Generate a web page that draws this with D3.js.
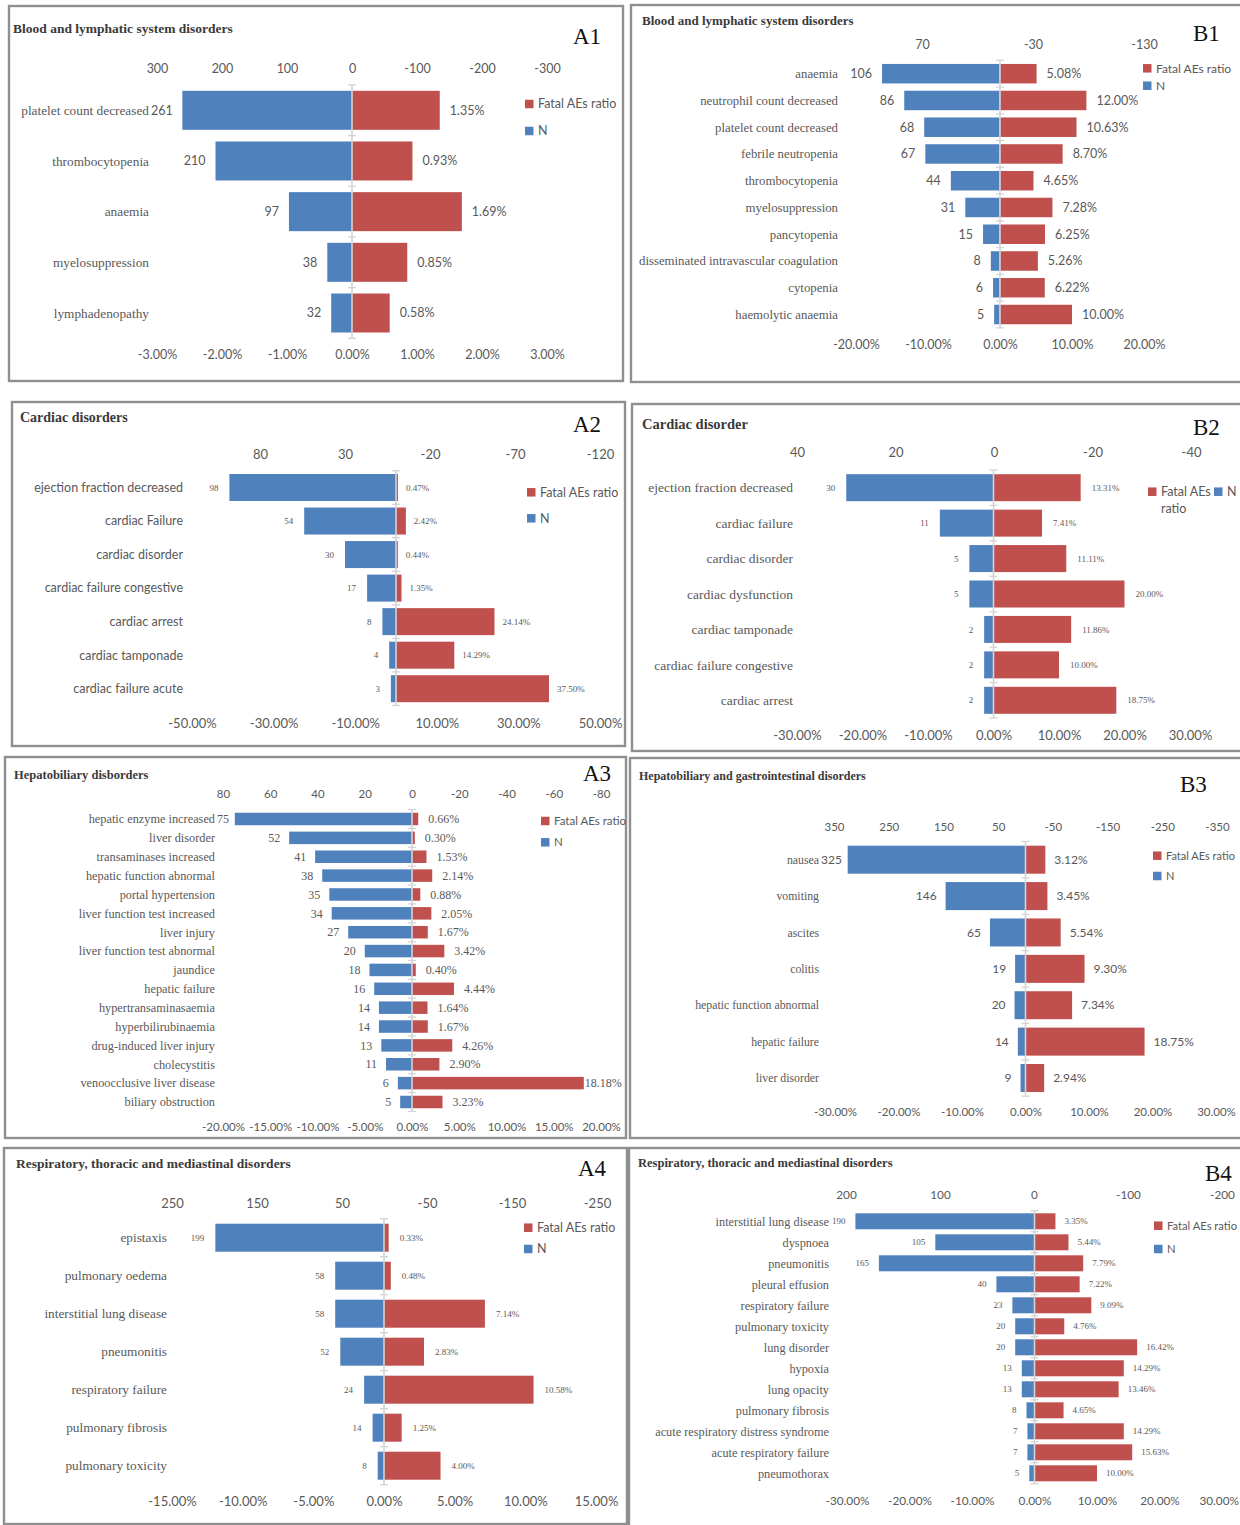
<!DOCTYPE html>
<html>
<head>
<meta charset="utf-8">
<script src="https://cdn.jsdelivr.net/npm/d3@7"></script>
<style>
  body { margin: 0; background: #fff; }
  svg { display: block; }
</style>
</head>
<body>
<svg id="fig" width="1240" height="1525"></svg>
<script>
// ---------- A1: blood and lymphatic system disorders ----------
const a1Terms = ["platelet count decreased", "thrombocytopenia", "anaemia", "myelosuppression", "lymphadenopathy"];
const a1N = [261, 210, 97, 38, 32];
const a1Ratio = [1.35, 0.93, 1.69, 0.85, 0.58];
const a1NTicks = [300, 200, 100, 0, -100, -200, -300];
const a1PctTicks = [-3, -2, -1, 0, 1, 2, 3];

// ---------- B1: blood and lymphatic system disorders ----------
const b1Terms = ["anaemia", "neutrophil count decreased", "platelet count decreased", "febrile neutropenia",
  "thrombocytopenia", "myelosuppression", "pancytopenia", "disseminated intravascular coagulation",
  "cytopenia", "haemolytic anaemia"];
const b1N = [106, 86, 68, 67, 44, 31, 15, 8, 6, 5];
const b1Ratio = [5.08, 12.00, 10.63, 8.70, 4.65, 7.28, 6.25, 5.26, 6.22, 10.00];
const b1NTicks = [70, -30, -130];
const b1PctTicks = [-20, -10, 0, 10, 20];

// ---------- A2: cardiac disorders ----------
const a2Terms = ["ejection fraction decreased", "cardiac Failure", "cardiac disorder", "cardiac failure congestive",
  "cardiac arrest", "cardiac tamponade", "cardiac failure acute"];
const a2N = [98, 54, 30, 17, 8, 4, 3];
const a2Ratio = [0.47, 2.42, 0.44, 1.35, 24.14, 14.29, 37.50];
const a2NTicks = [80, 30, -20, -70, -120];
const a2PctTicks = [-50, -30, -10, 10, 30, 50];

// ---------- B2: cardiac disorder ----------
const b2Terms = ["ejection fraction decreased", "cardiac failure", "cardiac disorder", "cardiac dysfunction",
  "cardiac tamponade", "cardiac failure congestive", "cardiac arrest"];
const b2N = [30, 11, 5, 5, 2, 2, 2];
const b2Ratio = [13.31, 7.41, 11.11, 20.00, 11.86, 10.00, 18.75];
const b2NTicks = [40, 20, 0, -20, -40];
const b2PctTicks = [-30, -20, -10, 0, 10, 20, 30];

// ---------- A3: hepatobiliary disorders ----------
const a3Terms = ["hepatic enzyme increased", "liver disorder", "transaminases increased", "hepatic function abnormal",
  "portal hypertension", "liver function test increased", "liver injury", "liver function test abnormal",
  "jaundice", "hepatic failure", "hypertransaminasaemia", "hyperbilirubinaemia", "drug-induced liver injury",
  "cholecystitis", "venoocclusive liver disease", "biliary obstruction"];
const a3N = [75, 52, 41, 38, 35, 34, 27, 20, 18, 16, 14, 14, 13, 11, 6, 5];
const a3Ratio = [0.66, 0.30, 1.53, 2.14, 0.88, 2.05, 1.67, 3.42, 0.40, 4.44, 1.64, 1.67, 4.26, 2.90, 18.18, 3.23];
const a3NTicks = [80, 60, 40, 20, 0, -20, -40, -60, -80];
const a3PctTicks = [-20, -15, -10, -5, 0, 5, 10, 15, 20];

// ---------- B3: hepatobiliary and gastrointestinal disorders ----------
const b3Terms = ["nausea", "vomiting", "ascites", "colitis", "hepatic function abnormal", "hepatic failure", "liver disorder"];
const b3N = [325, 146, 65, 19, 20, 14, 9];
const b3Ratio = [3.12, 3.45, 5.54, 9.30, 7.34, 18.75, 2.94];
const b3NTicks = [350, 250, 150, 50, -50, -150, -250, -350];
const b3PctTicks = [-30, -20, -10, 0, 10, 20, 30];

// ---------- A4: respiratory, thoracic and mediastinal disorders ----------
const a4Terms = ["epistaxis", "pulmonary oedema", "interstitial lung disease", "pneumonitis",
  "respiratory failure", "pulmonary fibrosis", "pulmonary toxicity"];
const a4N = [199, 58, 58, 52, 24, 14, 8];
const a4Ratio = [0.33, 0.48, 7.14, 2.83, 10.58, 1.25, 4.00];
const a4NTicks = [250, 150, 50, -50, -150, -250];
const a4PctTicks = [-15, -10, -5, 0, 5, 10, 15];

// ---------- B4: respiratory, thoracic and mediastinal disorders ----------
const b4Terms = ["interstitial lung disease", "dyspnoea", "pneumonitis", "pleural effusion", "respiratory failure",
  "pulmonary toxicity", "lung disorder", "hypoxia", "lung opacity", "pulmonary fibrosis",
  "acute respiratory distress syndrome", "acute respiratory failure", "pneumothorax"];
const b4N = [190, 105, 165, 40, 23, 20, 20, 13, 13, 8, 7, 7, 5];
const b4Ratio = [3.35, 5.44, 7.79, 7.22, 9.09, 4.76, 16.42, 14.29, 13.46, 4.65, 14.29, 15.63, 10.00];
const b4NTicks = [200, 100, 0, -100, -200];
const b4PctTicks = [-30, -20, -10, 0, 10, 20, 30];

const seriesNames = ["Fatal AEs ratio", "N"];

// ---------- styling ----------
const SERIF = "'Liberation Serif','Times New Roman',serif";
const SANS = "Lato,'Liberation Sans',sans-serif";
const BLUE = "#4F81BD", RED = "#C0504D", INK = "#595959";
const PAGE_W = 1240;

// ---------- panel layouts ----------
const panels = [
  { tag: "A1", title: "Blood and lymphatic system disorders", terms: a1Terms, n: a1N, ratio: a1Ratio,
    nTicks: a1NTicks, pctTicks: a1PctTicks,
    box: [9, 6, 623, 381], titleXY: [13, 28], titleSize: 13.5, tagXY: [573, 44],
    nDomain: [300, -300], nRange: [157, 547], pDomain: [-3, 3], pRange: [157, 547],
    topY: 69, botY: 355, rows: [110.3, 313], barH: 39, catX: 149, catFont: SERIF, catSize: 13.3,
    valFont: SANS, valSize: 12.5, nGap: 10, pGap: 10, axisSize: 12.5, plotRight: 610,
    legend: { x: 525, yR: 104, yN: 131, size: 12.5 } },
  { tag: "B1", title: "Blood and lymphatic system disorders", terms: b1Terms, n: b1N, ratio: b1Ratio,
    nTicks: b1NTicks, pctTicks: b1PctTicks,
    box: [631, 5, 1252, 382], titleXY: [642, 20.5], titleSize: 13, tagXY: [1193, 41],
    nDomain: [70, -130], nRange: [922, 1144], pDomain: [-20, 20], pRange: [856, 1144],
    topY: 44.5, botY: 345, rows: [73.7, 314.5], barH: 19.5, catX: 838, catFont: SERIF, catSize: 12.8,
    valFont: SANS, valSize: 12.5, nGap: 10, pGap: 10, axisSize: 12.5, plotRight: 1235,
    legend: { x: 1143, yR: 68.3, yN: 85.7, size: 12 } },
  { tag: "A2", title: "Cardiac disorders", terms: a2Terms, n: a2N, ratio: a2Ratio,
    nTicks: a2NTicks, pctTicks: a2PctTicks,
    box: [12, 402, 625, 746], titleXY: [20, 417.5], titleSize: 14, tagXY: [573, 432],
    nDomain: [80, -120], nRange: [260, 600], pDomain: [-50, 50], pRange: [192, 600],
    topY: 454.3, botY: 723, rows: [487.5, 688.7], barH: 27, catX: 183, catFont: SANS, catSize: 12.5,
    valFont: SERIF, valSize: 9, nGap: 11, pGap: 8, axisSize: 13, plotRight: 615,
    legend: { x: 527, yR: 492.3, yN: 518.3, size: 12.5 } },
  { tag: "B2", title: "Cardiac disorder", terms: b2Terms, n: b2N, ratio: b2Ratio,
    nTicks: b2NTicks, pctTicks: b2PctTicks,
    box: [632, 404, 1252, 751], titleXY: [642, 424], titleSize: 14.5, tagXY: [1193, 435],
    nDomain: [40, -40], nRange: [797, 1191], pDomain: [-30, 30], pRange: [797, 1190],
    topY: 452.3, botY: 735.7, rows: [487.7, 700.3], barH: 27, catX: 793, catFont: SERIF, catSize: 13.5,
    valFont: SERIF, valSize: 9, nGap: 11, pGap: 11, axisSize: 13, plotRight: 1235,
    legend: { x: 1148, yR: 491.7, yN: 491.7, size: 12.5, wrapped: true, xN: 1214 } },
  { tag: "A3", title: "Hepatobiliary disborders", terms: a3Terms, n: a3N, ratio: a3Ratio,
    nTicks: a3NTicks, pctTicks: a3PctTicks,
    box: [5, 757, 626, 1138], titleXY: [14, 774.3], titleSize: 12.5, tagXY: [583, 781],
    nDomain: [80, -80], nRange: [223, 601], pDomain: [-20, 20], pRange: [223, 601],
    topY: 794.3, botY: 1127.3, rows: [819, 1102], barH: 12.5, catX: 215, catFont: SERIF, catSize: 12.3,
    valFont: SERIF, valSize: 12, nGap: 9, pGap: 10, axisSize: 11.5, plotRight: 621,
    legend: { x: 541, yR: 821, yN: 842.3, size: 11.5 } },
  { tag: "B3", title: "Hepatobiliary and gastrointestinal disorders", terms: b3Terms, n: b3N, ratio: b3Ratio,
    nTicks: b3NTicks, pctTicks: b3PctTicks,
    box: [630, 758, 1252, 1138], titleXY: [639, 776], titleSize: 12, tagXY: [1180, 792],
    nDomain: [350, -350], nRange: [834, 1217], pDomain: [-30, 30], pRange: [835, 1216],
    topY: 827, botY: 1112, rows: [859.7, 1078], barH: 28, catX: 819, catFont: SERIF, catSize: 11.8,
    valFont: SANS, valSize: 12, nGap: 9, pGap: 9, axisSize: 11.5, plotRight: 1235,
    legend: { x: 1153, yR: 855.7, yN: 876, size: 11 } },
  { tag: "A4", title: "Respiratory, thoracic and mediastinal disorders", terms: a4Terms, n: a4N, ratio: a4Ratio,
    nTicks: a4NTicks, pctTicks: a4PctTicks,
    box: [4, 1148, 627, 1524], titleXY: [16, 1163.7], titleSize: 13.5, tagXY: [578, 1176],
    nDomain: [250, -250], nRange: [172, 597], pDomain: [-15, 15], pRange: [172, 596],
    topY: 1203.3, botY: 1501.5, rows: [1237.7, 1465.7], barH: 28, catX: 167, catFont: SERIF, catSize: 13.3,
    valFont: SERIF, valSize: 9, nGap: 11, pGap: 11, axisSize: 13, plotRight: 615,
    legend: { x: 524, yR: 1227.7, yN: 1249, size: 12.5 } },
  { tag: "B4", title: "Respiratory, thoracic and  mediastinal disorders", terms: b4Terms, n: b4N, ratio: b4Ratio,
    nTicks: b4NTicks, pctTicks: b4PctTicks,
    box: [629, 1148, 1252, 1532], titleXY: [638, 1162.3], titleSize: 12.5, tagXY: [1205, 1181],
    nDomain: [200, -200], nRange: [846, 1222], pDomain: [-30, 30], pRange: [847, 1222],
    topY: 1195, botY: 1501, rows: [1221.3, 1473.3], barH: 16, catX: 829, catFont: SERIF, catSize: 12.3,
    valFont: SERIF, valSize: 9, nGap: 10, pGap: 9, axisSize: 11.8, plotRight: 1235,
    legend: { x: 1154, yR: 1225.7, yN: 1249, size: 11.2 } }
];

const svg = d3.select("#fig");
svg.append("rect").attr("width", PAGE_W).attr("height", 1525).attr("fill", "#fff");

function drawPanel(p) {
  const g = svg.append("g").attr("class", "panel-" + p.tag);

  // frame
  g.append("rect")
    .attr("x", p.box[0]).attr("y", p.box[1])
    .attr("width", p.box[2] - p.box[0]).attr("height", p.box[3] - p.box[1])
    .attr("fill", "none").attr("stroke", "#8f8f8f").attr("stroke-width", 2.4);

  // title and panel tag
  g.append("text")
    .attr("x", p.titleXY[0]).attr("y", p.titleXY[1]).attr("dy", "0.35em")
    .attr("font-family", SERIF).attr("font-weight", "bold").attr("font-size", p.titleSize)
    .attr("fill", "#3a3a3a").text(p.title);
  g.append("text")
    .attr("x", p.tagXY[0]).attr("y", p.tagXY[1])
    .attr("font-family", SERIF).attr("font-size", 23).attr("fill", "#111").text(p.tag);

  // scales: N grows to the left, the fatal ratio to the right of a shared zero
  const xN = d3.scaleLinear().domain(p.nDomain).range(p.nRange);
  const xP = d3.scaleLinear().domain(p.pDomain).range(p.pRange);
  const y = d3.scalePoint().domain(p.terms).range(p.rows);
  const step = y.step();
  const data = p.terms.map((t, i) => ({ term: t, n: p.n[i], r: p.ratio[i] }));

  // top (N) and bottom (ratio) axes
  const top = g.append("g").attr("transform", `translate(0,${p.topY})`)
    .call(d3.axisTop(xN).tickValues(p.nTicks).tickSize(0).tickFormat(d => String(d)));
  const bot = g.append("g").attr("transform", `translate(0,${p.botY})`)
    .call(d3.axisBottom(xP).tickValues(p.pctTicks).tickSize(0).tickFormat(d => d.toFixed(2) + "%"));
  [top, bot].forEach(ax => {
    ax.select(".domain").remove();
    ax.selectAll("text")
      .attr("y", 0).attr("dy", "0.35em")
      .attr("font-family", SANS).attr("font-size", p.axisSize).attr("fill", INK)
      .each(function () {
        // keep edge labels on the page
        const b = this.getBBox();
        const tx = +this.parentNode.getAttribute("transform").match(/translate\(([-\d.]+)/)[1];
        const over = tx + b.x + b.width - (PAGE_W - 1);
        if (over > 0) d3.select(this).attr("x", -over);
      });
  });

  // bars
  g.selectAll("rect.nbar").data(data).join("rect").attr("class", "nbar")
    .attr("x", d => xN(d.n)).attr("width", d => xN(0) - xN(d.n))
    .attr("y", d => y(d.term) - p.barH / 2).attr("height", p.barH)
    .attr("fill", BLUE);
  g.selectAll("rect.rbar").data(data).join("rect").attr("class", "rbar")
    .attr("x", xP(0)).attr("width", d => xP(d.r) - xP(0))
    .attr("y", d => y(d.term) - p.barH / 2).attr("height", p.barH)
    .attr("fill", RED);

  // category axis at zero with cross ticks between rows
  const zx = xP(0);
  const y0 = p.rows[0] - step / 2, y1 = p.rows[1] + step / 2;
  g.append("line").attr("x1", zx).attr("x2", zx).attr("y1", y0).attr("y2", y1)
    .attr("stroke", "#d4d4d4").attr("stroke-width", 1.6);
  const bounds = d3.range(p.terms.length + 1).map(i => y0 + i * step);
  g.selectAll("line.ctick").data(bounds).join("line").attr("class", "ctick")
    .attr("x1", zx - 4).attr("x2", zx + 4).attr("y1", d => d).attr("y2", d => d)
    .attr("stroke", "#d4d4d4").attr("stroke-width", 1.3);

  // category labels
  g.selectAll("text.cat").data(data).join("text").attr("class", "cat")
    .attr("x", p.catX).attr("y", d => y(d.term)).attr("dy", "0.35em")
    .attr("text-anchor", "end")
    .attr("font-family", p.catFont).attr("font-size", p.catSize).attr("fill", INK)
    .text(d => d.term);

  // N value labels, kept clear of the category labels
  g.selectAll("text.nval").data(data).join("text").attr("class", "nval")
    .attr("y", d => y(d.term)).attr("dy", "0.35em")
    .attr("font-family", p.valFont).attr("font-size", p.valSize).attr("fill", INK)
    .text(d => d.n)
    .each(function (d) {
      const w = this.getComputedTextLength();
      let end = xN(d.n) - p.nGap;
      if (end - w < p.catX + 2) end = p.catX + 2 + w;
      d3.select(this).attr("x", end - w);
    });

  // ratio labels, kept inside the plot area
  g.selectAll("text.pval").data(data).join("text").attr("class", "pval")
    .attr("y", d => y(d.term)).attr("dy", "0.35em")
    .attr("font-family", p.valFont).attr("font-size", p.valSize).attr("fill", INK)
    .text(d => d.r.toFixed(2) + "%")
    .each(function (d) {
      const w = this.getComputedTextLength();
      let x = xP(d.r) + p.pGap;
      if (x + w > p.plotRight) x = Math.max(xP(d.r) + 1, p.plotRight - w);
      d3.select(this).attr("x", x);
    });

  // legend
  const L = p.legend, sq = 8.5;
  const items = [
    { name: seriesNames[0], color: RED, x: L.x, y: L.yR },
    { name: seriesNames[1], color: BLUE, x: L.wrapped ? L.xN : L.x, y: L.yN }
  ];
  items.forEach(it => {
    g.append("rect").attr("x", it.x).attr("y", it.y - sq / 2).attr("width", sq).attr("height", sq)
      .attr("fill", it.color);
    const t = g.append("text").attr("x", it.x + sq + 4.5).attr("y", it.y).attr("dy", "0.35em")
      .attr("font-family", SANS).attr("font-size", L.size).attr("fill", INK);
    if (L.wrapped && it.name.includes(" ratio")) {
      const parts = it.name.split(" ");
      t.text(parts.slice(0, 2).join(" "));
      g.append("text").attr("x", it.x + sq + 4.5).attr("y", it.y + 16.6).attr("dy", "0.35em")
        .attr("font-family", SANS).attr("font-size", L.size).attr("fill", INK)
        .text(parts.slice(2).join(" "));
    } else {
      t.text(it.name);
    }
  });
}

panels.forEach(drawPanel);
</script>
</body>
</html>
